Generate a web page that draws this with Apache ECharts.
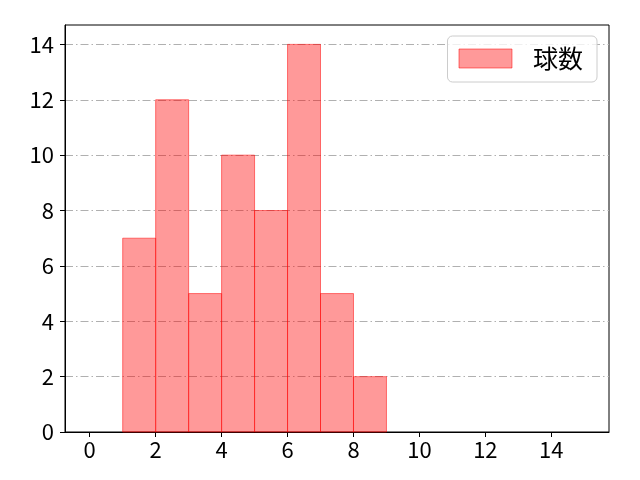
<!DOCTYPE html>
<html>
<head>
<meta charset="utf-8">
<script src="https://cdn.jsdelivr.net/npm/echarts@6/dist/echarts.min.js"></script>
<style>
html,body{margin:0;padding:0;background:#fff;}
#main{width:640px;height:480px;}
</style>
</head>
<body>
<div id="main"></div>
<script>
// ビンの左端・右端と度数
var binStart = [1, 2, 3, 4, 5, 6, 7, 8];
var binEnd = [2, 3, 4, 5, 6, 7, 8, 9];
var counts = [7, 12, 5, 10, 8, 14, 5, 2];
var xTicks = [0, 2, 4, 6, 8, 10, 12, 14];
var yTicks = [0, 2, 4, 6, 8, 10, 12, 14];
var seriesName = '球数';

var font = '"Noto Sans CJK JP", "DejaVu Sans", sans-serif';
var barFill = 'rgba(255,0,0,0.4)';
var barEdge = 'rgba(255,0,0,0.5)';

var histData = [];
for (var i = 0; i < counts.length; i++) {
	histData.push([binStart[i], binEnd[i], counts[i]]);
}

var chart = echarts.init(document.getElementById('main'));
var option = {
	animation: false,
	backgroundColor: '#fff',
	grid: {
		left: 65,
		right: 31,
		top: 25,
		bottom: 48,
		show: true,
		borderColor: '#000',
		borderWidth: 1
	},
	legend: {
		right: 43,
		top: 36,
		orient: 'vertical',
		padding: [10, 14, 11, 11],
		itemWidth: 53,
		itemHeight: 19,
		borderColor: '#cccccc',
		borderWidth: 1,
		borderRadius: 5,
		backgroundColor: 'rgba(255,255,255,0.8)',
		textStyle: {fontFamily: font, fontSize: 25, color: '#000', padding: [0, 0, 0, 16]},
		data: [{
			name: seriesName,
			icon: 'rect',
			itemStyle: {color: barFill, borderColor: barEdge, borderWidth: 1}
		}]
	},
	xAxis: {
		type: 'value',
		min: -0.75,
		max: 15.75,
		axisLine: {show: true, onZero: false, lineStyle: {color: '#000', width: 1}},
		axisTick: {show: true, length: 5, lineStyle: {color: '#000'}, customValues: xTicks},
		axisLabel: {fontFamily: font, fontSize: 22, color: '#000', margin: 7, customValues: xTicks},
		splitLine: {show: false}
	},
	yAxis: {
		type: 'value',
		min: 0,
		max: 14.7,
		axisLine: {show: true, onZero: false, lineStyle: {color: '#000', width: 1}},
		axisTick: {show: true, length: 5, lineStyle: {color: '#000'}, customValues: yTicks},
		axisLabel: {fontFamily: font, fontSize: 22, color: '#000', margin: 11, customValues: yTicks},
		splitLine: {
			show: true,
			lineStyle: {color: '#b0b0b0', width: 1, type: [8, 3, 1.5, 3]}
		}
	},
	series: [{
		name: seriesName,
		type: 'custom',
		itemStyle: {color: barFill, borderColor: barEdge},
		encode: {x: [0, 1], y: 2},
		renderItem: function (params, api) {
			var p0 = api.coord([api.value(0), api.value(2)]);
			var p1 = api.coord([api.value(1), 0]);
			return {
				type: 'rect',
				shape: {x: p0[0], y: p0[1], width: p1[0] - p0[0], height: p1[1] - p0[1]},
				style: {fill: barFill, stroke: barEdge, lineWidth: 1}
			};
		},
		data: histData
	}]
};
chart.setOption(option);
</script>
</body>
</html>
